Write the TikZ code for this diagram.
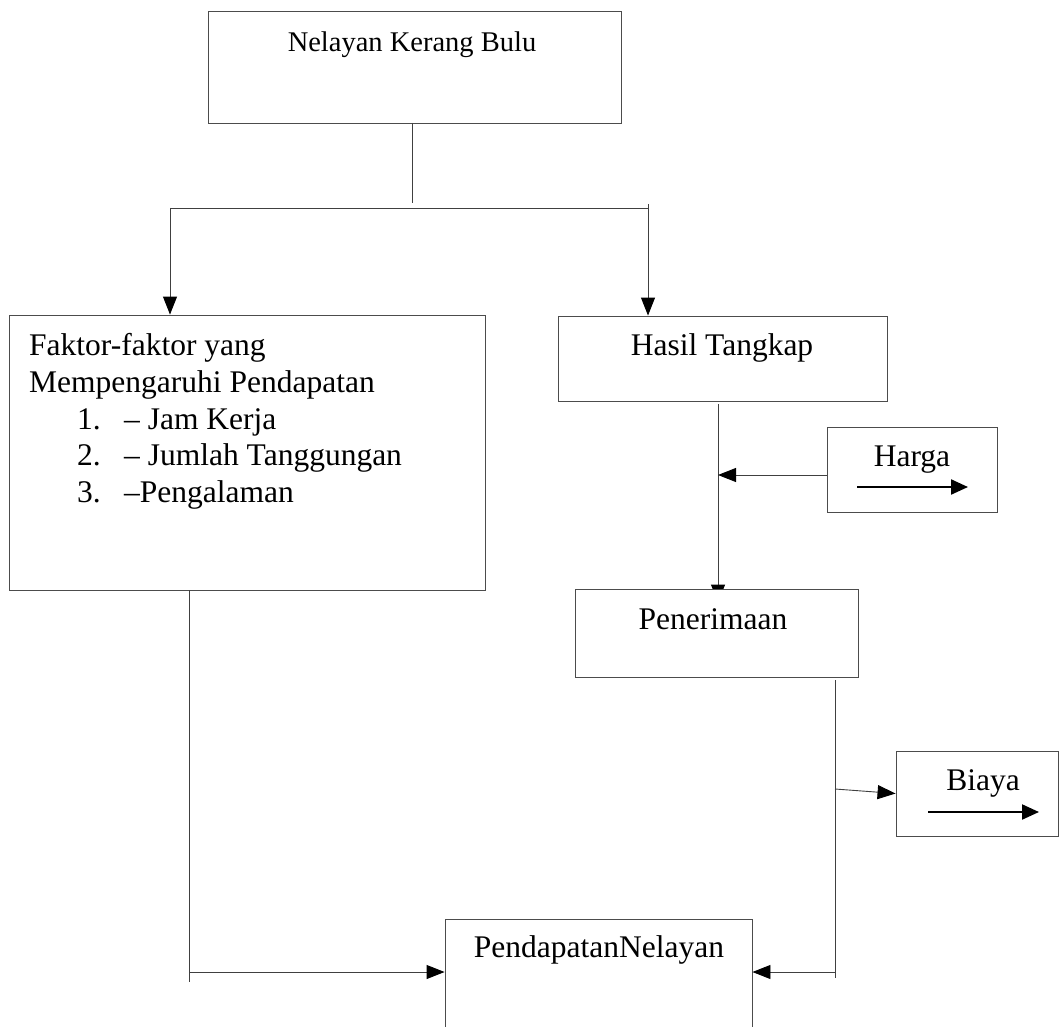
\documentclass[tikz,border=0pt]{standalone}
\usepackage{fontspec}
\setmainfont{Liberation Serif}
\usetikzlibrary{arrows.meta,calc,backgrounds}
\begin{document}
\begin{tikzpicture}[x=1pt,y=-1pt,
  box/.style={draw=black!70, fill=white, line width=0.9pt, inner sep=0pt},
  conn/.style={draw=black!75, line width=0.9pt},
  arr/.style={conn, -{Triangle[length=18pt,width=14pt,color=black]}},
  inarr/.style={draw=black, line width=2.2pt, -{Triangle[length=17pt,width=15pt]}},
  txt/.style={font=\fontsize{31.5}{36.6}\selectfont, inner sep=0pt, anchor=base},
  toptxt/.style={font=\fontsize{28.5}{34}\selectfont, inner sep=0pt, anchor=base}]
\clip (0,0) rectangle (1060,1027);

% boxes
\node[box, minimum width=413pt, minimum height=112pt] (top) at (414.5,67) {};
\node[box, minimum width=476pt, minimum height=275pt] (faktor) at (247,452.5) {};
\node[box, minimum width=329pt, minimum height=85pt] (hasil) at (722.5,358.5) {};
\node[box, minimum width=170pt, minimum height=85pt] (harga) at (912,469.5) {};
\node[box, minimum width=283pt, minimum height=88pt] (pener) at (716.5,633) {};
\node[box, minimum width=162pt, minimum height=85pt] (biaya) at (977,793.5) {};
\node[box, minimum width=307pt, minimum height=130pt] (pend) at (598.5,984) {};

% texts
\node[toptxt] (topT) at (412,52) {Nelayan Kerang Bulu};
\node[txt, anchor=north west, align=left] (faktorT) at (29,333.5)
  {Faktor-faktor yang\\
   Mempengaruhi Pendapatan\\
   \hspace*{48pt}\makebox[47pt][l]{1.}– Jam Kerja\\
   \hspace*{48pt}\makebox[47pt][l]{2.}– Jumlah Tanggungan\\
   \hspace*{48pt}\makebox[47pt][l]{3.}–Pengalaman};
\node[txt] (hasilT) at (722,355) {Hasil Tangkap};
\node[txt] (hargaT) at (912,466) {Harga};
\node[txt] (penerT) at (713,629) {Penerimaan};
\node[txt] (biayaT) at (983,790) {Biaya};
\node[txt] (pendT) at (599,957) {PendapatanNelayan};

% arrows inside Harga and Biaya
\coordinate (ha1) at (857,487); \coordinate (ha2) at (968,487);
\draw[inarr] (ha1) -- (ha2);
\coordinate (ba1) at (928,812); \coordinate (ba2) at (1039,812);
\draw[inarr] (ba1) -- (ba2);

% top split
\coordinate (tj) at (412,203);
\coordinate (hl) at (170,208);
\coordinate (hr) at (648,208);
\draw[conn] (412,123) -- (tj);
\draw[conn] (hl) -- (hr) -- ++(0,-4);
\draw[arr] (hl) -- (hl |- faktor.north);
\draw[arr] (hr) -- (hr |- hasil.north);

% hasil -> penerimaan (arrow tip hidden behind the Penerimaan box)
\coordinate (hv1) at (718,404);
\coordinate (hv2) at (718,475);
\begin{pgfonlayer}{background}
\draw[arr] (hv1) -- ([yshift=-14pt]hv1 |- pener.north);
\end{pgfonlayer}
\draw[arr] (harga.west |- hv2) -- (hv2);

% penerimaan -> biaya, pendapatan
\coordinate (pv1) at (835,680);
\coordinate (pv2) at (835,789);
\coordinate (pv3) at (835,972);
\draw[conn] (pv1) -- (835,978);
\draw[arr] (pv2) -- (biaya.west);
\draw[arr] (pv3) -- (pv3 -| pend.east);

% faktor -> pendapatan
\coordinate (fv1) at (189,590);
\coordinate (fv2) at (190,972);
\draw[conn] (fv1) -- (189,982);
\draw[arr] (fv2) -- (fv2 -| pend.west);
\end{tikzpicture}
\end{document}
